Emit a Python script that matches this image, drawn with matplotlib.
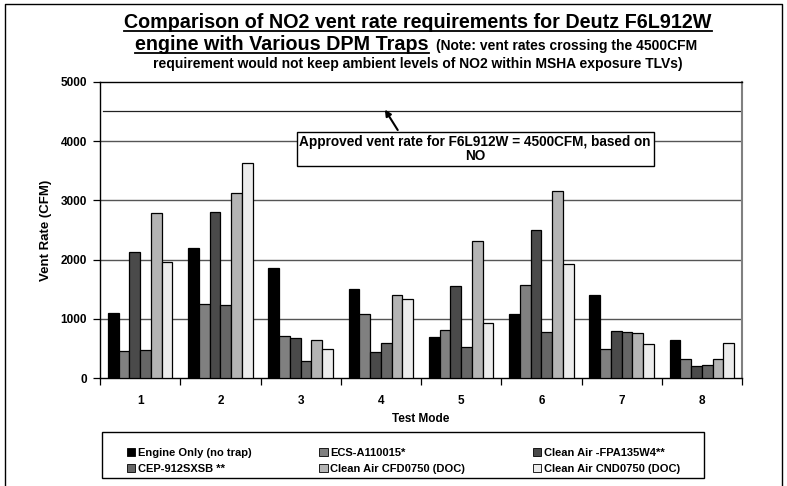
import numpy as np
import matplotlib
matplotlib.use("Agg")
import matplotlib.pyplot as plt
from matplotlib.lines import Line2D
from matplotlib.patches import Patch

plt.rcParams['font.family'] = ['Liberation Sans', 'DejaVu Sans']
plt.rcParams['font.weight'] = 'bold'

# data
modes = ['1', '2', '3', '4', '5', '6', '7', '8']
engine_only = [1100, 2200, 1860, 1510, 690, 1080, 1410, 640]
ecs_a110015 = [460, 1250, 710, 1080, 820, 1570, 490, 330]
fpa135w4 = [2130, 2810, 680, 450, 1560, 2500, 790, 210]
cep_912sxsb = [470, 1240, 290, 590, 530, 780, 780, 230]
cfd0750 = [2780, 3120, 650, 1400, 2320, 3150, 760, 330]
cnd0750 = [1960, 3630, 500, 1340, 930, 1930, 580, 600]
series_names = ['Engine Only (no trap)', 'ECS-A110015*', 'Clean Air -FPA135W4**',
                'CEP-912SXSB **', 'Clean Air CFD0750 (DOC)', 'Clean Air CND0750 (DOC)']
series_colors = ['#000000', '#808080', '#4a4a4a', '#666666', '#b4b4b4', '#ececec']
approved_rate = 4500
y_ticks = [0, 1000, 2000, 3000, 4000, 5000]

series = [engine_only, ecs_a110015, fpa135w4, cep_912sxsb, cfd0750, cnd0750]

W, H = 787, 486
fig = plt.figure(figsize=(W / 100, H / 100), dpi=100)
ax = fig.add_axes([100 / W, 1 - 378.3 / H, 642 / W, (378.3 - 81.7) / H])

x = np.arange(len(modes))
bw = 0.134
for k, (vals, name, col) in enumerate(zip(series, series_names, series_colors)):
    ax.bar(x + (k - 2.5) * bw, vals, bw, color=col, edgecolor='black',
           linewidth=0.9, label=name, zorder=3)

ax.set_xlim(-0.5, len(modes) - 0.5)
ax.set_ylim(0, 5000)
ax.set_yticks(y_ticks)
ax.set_yticklabels([str(v) for v in y_ticks], fontsize=8.5, fontweight='bold')
for v in y_ticks[1:-1]:
    ax.axhline(v, color='#555555', lw=1, zorder=1)
ax.axhline(approved_rate, xmin=0.005, color='#222222', lw=0.9, zorder=1)

ax.set_xticks(x)
ax.set_xticklabels(modes, fontsize=8.5, fontweight='bold')
ax.set_xticks(np.arange(-0.5, len(modes)), minor=True)
ax.tick_params(axis='x', which='major', length=0, pad=12)
ax.tick_params(axis='x', which='minor', length=5, direction='out', width=0.9)
ax.tick_params(axis='y', length=5, direction='out', width=0.9, pad=4.5)
ax.set_xlabel('Test Mode', fontsize=8.5, fontweight='bold', labelpad=4)
ax.set_ylabel('Vent Rate (CFM)', fontsize=9.5, fontweight='bold', labelpad=6)

for s in ['left', 'bottom', 'top']:
    ax.spines[s].set_color('black')
    ax.spines[s].set_linewidth(1)
ax.spines['right'].set_color('#808080')
ax.spines['right'].set_linewidth(1.5)

# annotation box and arrow
ax.text(4.175, 3868, 'Approved vent rate for F6L912W = 4500CFM, based on\nNO',
        ha='center', va='center', fontsize=9.8, fontweight='bold', linespacing=1.0,
        multialignment='center', zorder=5,
        bbox=dict(boxstyle='square,pad=0.2', fc='white', ec='black', lw=1))
ax.annotate('', xy=(3.05, 4530), xytext=(3.21, 4185),
            arrowprops=dict(arrowstyle='-|>', color='black', lw=1.5,
                            mutation_scale=9, shrinkA=0, shrinkB=0), zorder=6)

# legend, row-major order
order = [0, 3, 1, 4, 2, 5]
handles = [Patch(facecolor=series_colors[i], edgecolor='black', linewidth=0.6)
           for i in order]
labels = [series_names[i] for i in order]
fig.legend(handles, labels, ncol=3, mode='expand', frameon=False,
           bbox_to_anchor=(127 / W, 1 - 474 / H, (680 - 127) / W, 30 / H),
           loc='lower left', fontsize=8, handlelength=0.75, handleheight=0.75,
           handletextpad=0.25, borderaxespad=0, borderpad=0, labelspacing=0.55,
           prop={'weight': 'bold', 'size': 8})
fig.add_artist(plt.Rectangle((101.7 / W, 1 - 478.3 / H), (704 - 101.7) / W, 46.6 / H,
                             transform=fig.transFigure, fill=False, ec='black', lw=1))

# outer frame
fig.add_artist(Line2D([5 / W, 5 / W, 782 / W, 782 / W], [0, 1 - 4 / H, 1 - 4 / H, 0],
                      transform=fig.transFigure, color='black', lw=1))

# title, underlined parts
t1 = fig.text(418 / W, 1 - 23 / H, 'Comparison of NO2 vent rate requirements for Deutz F6L912W',
              ha='center', va='center', fontsize=14.2, fontweight='bold')
t2 = fig.text(135 / W, 1 - 45 / H, 'engine with Various DPM Traps',
              ha='left', va='center', fontsize=14.2, fontweight='bold')
t4 = fig.text(418 / W, 1 - 64 / H,
              'requirement would not keep ambient levels of NO2 within MSHA exposure TLVs)',
              ha='center', va='center', fontsize=10, fontweight='bold')
fig.canvas.draw()
r = fig.canvas.get_renderer()
b2 = t2.get_window_extent(r)
t3 = fig.text((b2.x1 + 8) / W, 1 - 46 / H, '(Note: vent rates crossing the 4500CFM',
              ha='left', va='center', fontsize=10, fontweight='bold')
for t in (t1, t2):
    b = t.get_window_extent(r)
    yl = b.y0 + 1
    fig.add_artist(Line2D([b.x0 / W, b.x1 / W], [yl / H, yl / H],
                          transform=fig.transFigure, color='black', lw=1.3))

fig.savefig('out.png', dpi=100)
